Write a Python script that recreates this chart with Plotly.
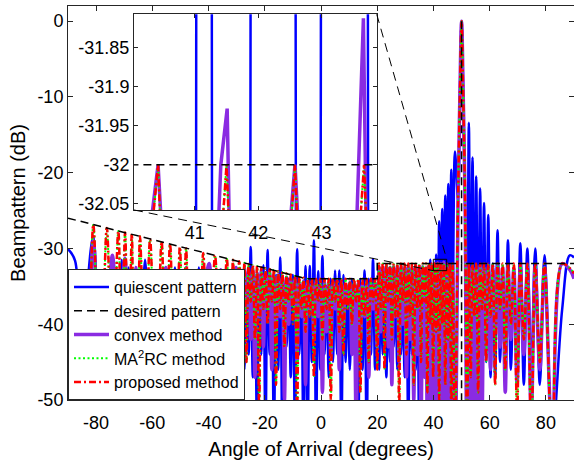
import plotly.graph_objects as go

# ---------------- data ----------------
# shared angle vertices (degrees) of the plotted patterns (main axes)
theta = [
    # -90 .. -29
    -90.0, -87.5, -85.5, -83.3, -81.0, -78.6, -76.2, -74.2, -72.1, -70.9,
    -69.7, -68.5, -67.3, -66.55, -65.85, -65.1, -64.4, -62.6, -60.8, -58.75,
    -56.7, -55.2, -53.7, -51.95, -50.2, -49.1, -48.0, -46.5, -45.0, -43.45,
    -41.9, -39.8, -37.7, -35.6, -33.5, -32.4, -31.3, -30.2, -29.1,
    # -28 .. 20
    -28.0, -27.25, -26.5, -25.75, -25.0, -24.25, -23.5, -22.75, -22.0, -21.25,
    -20.5, -19.75, -19.0, -18.25, -17.5, -16.75, -16.0, -15.25, -14.5, -13.75,
    -13.0, -12.25, -11.5, -10.75, -10.0, -9.25, -8.5, -7.75, -7.0, -6.25,
    -5.5, -4.75, -4.0, -3.25, -2.5, -1.75, -1.0, -0.25, 0.5, 1.25,
    2.0, 2.75, 3.5, 4.25, 5.0, 5.75, 6.5, 7.25, 8.0, 8.75,
    9.5, 10.25, 11.0, 11.75, 12.5, 13.25, 14.0, 14.75, 15.5, 16.25,
    17.0, 17.75, 18.5, 19.25, 20.0,
    # 20.6 .. 46.9
    20.65, 21.3, 21.95, 22.6, 23.25, 23.9, 24.55, 25.2, 25.85, 26.5,
    27.15, 27.8, 28.45, 29.1, 29.75, 30.4, 31.05, 31.7, 32.35, 33.0,
    33.65, 34.3, 34.95, 35.6, 36.2, 36.8, 37.32, 37.83, 38.35, 38.87,
    39.39, 39.9, 40.42, 40.96, 41.49, 42.03, 42.58, 43.12, 43.67, 44.21,
    44.75, 45.29, 45.8, 46.35, 46.85,
    # main beam
    47.65, 48.75, 49.4, 50.0, 50.6, 51.25, 51.95,
    # 52.6 .. 90
    52.6, 53.25, 53.9, 54.55, 55.2, 55.9, 56.6, 57.3, 58.0, 58.75,
    59.5, 60.3, 61.1, 61.95, 62.8, 63.7, 64.6, 65.55, 66.5, 67.55,
    68.6, 69.75, 70.9, 72.15, 73.4, 74.8, 76.2, 77.85, 79.5, 82.3,
    85.8, 88.5, 90.0,
]

proposed_db = [
    -38, -45, -37, -50, -26.85, -52, -27.3, -47, -27.7, -45,
    -27.9, -48, -28.1, -47, -36.5, -50, -28.4, -46, -28.8, -49,
    -29.1, -46, -29.4, -50, -29.8, -45, -30.0, -50, -35.5, -47,
    -30.6, -50, -30.9, -46, -31.3, -49, -31.5, -46, -31.7,
    -39, -31.9, -45, -32.05, -37, -32.2, -42, -32.3, -51, -32.5,
    -38, -32.6, -40, -32.7, -37, -32.8, -48, -33.0, -38, -33.1,
    -43, -33.3, -37, -33.45, -40, -33.6, -52, -33.7, -38, -33.85,
    -41, -34, -39, -34, -47, -34, -37, -34, -42, -34,
    -38, -34, -50, -34, -37, -34, -41, -34, -44, -34,
    -38, -34, -40, -34, -37, -34, -49, -34, -39, -34,
    -45, -34, -37, -34, -46,
    -32, -38, -32, -46, -32, -37, -32, -42, -32, -39,
    -32, -51, -32, -37, -32, -44, -32, -39, -32, -48,
    -32, -38, -32, -45, -32, -37, -32, -49, -32, -40,
    -32, -47, -32, -41, -32, -50, -32, -40, -32, -48,
    -32, -42, -32, -52, -32,
    -55, -23.6, -10, 0, -10, -23.6, -55,
    -32, -47, -32, -39, -32, -49, -32, -38, -32, -45,
    -32, -39, -32, -48, -32, -38, -32, -46, -32, -40,
    -32, -52, -32, -42, -32, -55, -32, -45, -32, -56,
    -32, -32.6, -33.3,
]

# the MA2RC curve lies under the proposed-method curve in the picture
ma2rc_db = list(proposed_db)

convex_db = [
    -33.4, -48, -38, -45, -28.9, -45, -40, -30.9, -42, -36,
    -31.3, -46, -35, -45, -32.5, -48, -40, -33, -42, -33.5,
    -40, -32.5, -43, -33.5, -40, -47, -32.5, -45, -33.0, -50,
    -38, -32.0, -42, -32.8, -40, -33.0, -41, -32.5, -42,
    -40, -32.6, -38, -33.0, -42, -32.7, -47, -33.2, -39, -33.0,
    -43, -33.4, -38, -33.1, -46, -33.6, -41, -33.5, -39, -34.0,
    -50, -33.8, -40, -34.2, -37, -34.1, -45, -34.5, -39, -34.3,
    -48, -34.6, -38, -34.8, -42, -34.4, -39, -34.9, -49, -34.5,
    -41, -34.8, -44, -34.6, -38, -34.9, -46, -34.5, -40, -34.8,
    -37, -34.5, -44, -34.9, -53, -34.6, -42, -34.8, -39, -34.5,
    -47, -34.7, -38, -34.6, -43,
    -32.4, -41, -32.6, -38, -32.3, -43, -32.5, -48, -32.4, -39,
    -32.6, -45, -32.3, -40, -32.5, -47, -32.4, -42, -32.6, -50,
    -32.3, -44, -32.5, -53, -32.4, -47, -32.6, -55, -32.3, -50,
    -32.5, -56, -32.0, -58, -31.93, -60, -32.0, -60, -31.81, -60,
    -32.4, -62, -32.5, -62, -33,
    -65, -23.6, -10, 0, -10, -23.6, -65,
    -32.5, -60, -32.4, -60, -32.6, -58, -32.3, -52, -32.5, -44,
    -32.4, -46, -32.6, -41, -32.3, -43, -32.5, -49, -32.4, -42,
    -32.6, -48, -32.3, -44, -32.5, -52, -32.4, -46, -32.5, -55,
    -32.0, -32.8, -34.0,
]

quiescent_db = [
    -30.1, -31.6, -55, -36, -28.4, -45, -33, -33.5, -45, -31.5,
    -44, -32.5, -48, -33.5, -46, -34, -47, -31.5, -45, -33,
    -48, -33.0, -45, -32.5, -46, -35, -44, -33, -45, -32.5,
    -47, -33.0, -46, -34, -45, -33.5, -48, -33, -45,
    -33.5, -46, -35, -44, -29.8, -47, -34, -55, -33.5, -44,
    -32.2, -55, -30.2, -44, -35, -55, -33.5, -46, -31.2, -55,
    -35, -43, -34, -47, -33.5, -55, -30.1, -44, -35, -55,
    -32.3, -55, -32.3, -45, -28.9, -55, -33, -46, -31.0, -44,
    -35, -47, -34, -45, -32.9, -44, -32.9, -55, -33.5, -45,
    -35, -46, -34, -44, -35, -55, -34, -46, -32.9, -55,
    -34, -44, -31.4, -46, -35.5,
    -46, -34, -44, -33.5, -47, -35, -45, -33, -43, -34.5,
    -46, -33.5, -44, -35, -47, -34, -55, -33, -44, -34.5,
    -46, -33.5, -55, -35, -46, -34, -45, -33.5, -47, -31.5,
    -46, -32.5, -48, -30.8, -52, -26.4, -44, -24.8, -42, -23.0,
    -40, -21.5, -38, -19.6, -40,
    -17.2, -23.6, -10, 0, -10, -23.6, -45,
    -13.4, -45, -18.0, -45, -20.5, -45, -22.1, -46, -24.0, -45,
    -25.6, -47, -32, -47, -27.6, -45, -33, -45, -28.9, -46,
    -34, -45, -29.3, -48, -30.0, -46, -30.0, -48, -30.9, -55,
    -38, -30.9, -31.2,
]

# desired pattern (None separates the two pieces of the beam line)
theta_desired = [-90, -5, 20, 20, 50, 50, None, 50, 50, 90]
desired_db = [-26, -34, -34, -32, -32, -60, None, 0, -32, -32]

# finer readings of the curves inside the magnified inset (40-44 deg)
inset_theta_proposed = [39.9, 40.3, 40.35, 40.42, 40.45, 40.55, 41.37, 41.45,
                        41.5, 41.53, 41.62, 42.46, 42.53, 42.58, 42.61, 42.71,
                        43.55, 43.62, 43.67, 43.7, 43.8, 44.0]
inset_proposed_db = [-33, -32.3, -32.06, -32.0, -32.06, -32.3, -32.3, -32.06,
                     -32.0, -32.06, -32.3, -32.3, -32.06, -32.0, -32.06, -32.3,
                     -32.3, -32.06, -32.0, -32.06, -32.3, -33]
inset_ma2rc_db = list(inset_proposed_db)
inset_theta_convex = [39.9, 40.3, 40.33, 40.42, 40.46, 40.56, 41.3, 41.38,
                      41.41, 41.51, 41.54, 41.64, 42.45, 42.52, 42.58, 42.62,
                      42.72, 43.5, 43.56, 43.66, 43.7, 43.8, 44.0]
inset_convex_db = [-33, -32.3, -32.06, -32.0, -32.06, -32.3, -32.3, -32.06,
                   -32.0, -31.928, -32.06, -32.3, -32.3, -32.06, -32.0, -32.06,
                   -32.3, -32.3, -32.06, -31.812, -32.06, -32.3, -33]
inset_theta_quiescent = [39.9, 41.0, 41.03, 41.145, 41.26, 41.29, 41.57, 41.85,
                         41.89, 42.25, 42.58, 42.62, 42.8, 42.96, 43.0, 43.36,
                         43.72, 43.76, 44.0]
inset_quiescent_db = [-34, -34, -31.0, -30.5, -31.0, -34, -45, -34, -31.0,
                      -26.4, -31.0, -34, -44, -34, -31.0, -24.8, -31.0, -34, -40]

x_ticks = [-80, -60, -40, -20, 0, 20, 40, 60, 80]
x_tick_text = ["-80", "-60", "-40", "-20", "0", "20", "40", "60", "80"]
y_ticks = [-50, -40, -30, -20, -10, 0]
y_tick_text = ["-50", "-40", "-30", "-20", "-10", "0"]
inset_x_ticks = [41, 42, 43]
inset_x_text = ["41", "42", "43"]
inset_y_ticks = [-32.05, -32.0, -31.95, -31.9, -31.85]
inset_y_text = ["-32.05", "-32", "-31.95", "-31.9", "-31.85"]

assert len(theta) == len(proposed_db) == len(convex_db) == len(quiescent_db), (
    len(theta), len(proposed_db), len(convex_db), len(quiescent_db))
assert len(inset_theta_proposed) == len(inset_proposed_db)
assert len(inset_theta_convex) == len(inset_convex_db)
assert len(inset_theta_quiescent) == len(inset_quiescent_db)

# ---------------- figure ----------------
FONT = "Liberation Sans, Arial, Helvetica, sans-serif"
AX = "#262626"
BLUE, PURPLE, GREEN, RED = "#0000ff", "#8a2be2", "#00ff00", "#ff0000"

styles = {
    "quiescent": dict(color=BLUE, width=2.5),
    "convex": dict(color=PURPLE, width=3.5),
    "ma2rc": dict(color=GREEN, width=2, dash="2px,2.5px"),
    "proposed": dict(color=RED, width=2.5, dash="7px,3px,2px,3px"),
}
desired_line = dict(color="black", width=1.5, dash="8px,5px")

fig = go.Figure()

# drawing order as in the legend: quiescent, convex, MA2RC, proposed, desired
main_series = [
    ("quiescent pattern", theta, quiescent_db, "quiescent", 1),
    ("convex method", theta, convex_db, "convex", 3),
    ("MA<sup>2</sup>RC method", theta, ma2rc_db, "ma2rc", 4),
    ("proposed method", theta, proposed_db, "proposed", 5),
]
for name, xs, ys, key, rank in main_series:
    fig.add_trace(go.Scatter(
        x=xs, y=ys, mode="lines", name=name,
        line=dict(shape="spline", simplify=False, **styles[key]),
        legendrank=rank, hoverinfo="skip"))
fig.add_trace(go.Scatter(
    x=theta_desired, y=desired_db, mode="lines", name="desired pattern",
    line=desired_line, legendrank=2, connectgaps=False, hoverinfo="skip"))

inset_series = [
    (inset_theta_quiescent, inset_quiescent_db, "quiescent"),
    (inset_theta_convex, inset_convex_db, "convex"),
    (inset_theta_proposed, inset_ma2rc_db, "ma2rc"),
    (inset_theta_proposed, inset_proposed_db, "proposed"),
]
for xs, ys, key in inset_series:
    fig.add_trace(go.Scatter(
        x=xs, y=ys, mode="lines", line=dict(simplify=False, **styles[key]),
        xaxis="x2", yaxis="y2", showlegend=False, hoverinfo="skip"))
fig.add_trace(go.Scatter(
    x=theta_desired, y=desired_db, mode="lines", line=desired_line,
    xaxis="x2", yaxis="y2", showlegend=False, connectgaps=False,
    hoverinfo="skip"))

# inset placement (main-axis data coordinates of its corners)
inset_x = [-66.52, 19.82]
inset_y = [-24.92, 0.905]
rect_x = [39.95, 44.72]
rect_y = [-32.93, -31.43]
X_RANGE = [-90, 90]
Y_RANGE = [-50, 2]
dom_x = [(v - X_RANGE[0]) / (X_RANGE[1] - X_RANGE[0]) for v in inset_x]
dom_y = [(v - Y_RANGE[0]) / (Y_RANGE[1] - Y_RANGE[0]) for v in inset_y]

axis_common = dict(
    showline=True, linecolor=AX, linewidth=1, mirror="ticks",
    ticks="inside", ticklen=5, tickcolor=AX, tickwidth=1,
    showgrid=False, zeroline=False, automargin=False,
    tickfont=dict(family=FONT, size=18, color="black"),
)

fig.update_layout(
    width=574, height=464,
    margin=dict(l=68, r=0, t=6, b=64),
    paper_bgcolor="white", plot_bgcolor="white",
    font=dict(family=FONT, color="black"),
    xaxis=dict(range=X_RANGE, tickvals=x_ticks, ticktext=x_tick_text,
               ticklabelstandoff=6,
               title=dict(text="Angle of Arrival (degrees)",
                          font=dict(family=FONT, size=20), standoff=10),
               **axis_common),
    yaxis=dict(range=Y_RANGE, tickvals=y_ticks, ticktext=y_tick_text,
               title=dict(text="Beampattern (dB)",
                          font=dict(family=FONT, size=20), standoff=6),
               **axis_common),
    xaxis2=dict(domain=dom_x, anchor="y2", range=[40.04, 43.87],
                tickvals=inset_x_ticks, ticktext=inset_x_text,
                ticklabelstandoff=6,
                **{**axis_common, "ticklen": 4}),
    yaxis2=dict(domain=dom_y, anchor="x2", range=[-32.058, -31.807],
                tickvals=inset_y_ticks, ticktext=inset_y_text,
                **{**axis_common, "ticklen": 4}),
    legend=dict(x=0, y=0, xanchor="left", yanchor="bottom",
                bgcolor="white", bordercolor=AX, borderwidth=1,
                font=dict(family=FONT, size=16, color="black"),
                itemwidth=35, tracegroupgap=0),
    shapes=[
        dict(type="rect", xref="x", yref="y",
             x0=rect_x[0], x1=rect_x[1], y0=rect_y[0], y1=rect_y[1],
             line=dict(color="black", width=1)),
        dict(type="line", xref="x", yref="y",
             x0=inset_x[0], y0=inset_y[0], x1=rect_x[0], y1=rect_y[0],
             line=dict(color="black", width=1, dash="9px,6px")),
        dict(type="line", xref="x", yref="y",
             x0=inset_x[1], y0=inset_y[1], x1=rect_x[1], y1=rect_y[1],
             line=dict(color="black", width=1, dash="9px,6px")),
    ],
)

# remove the browser's default page margin so the 574x464 figure fills the window
fig.write_html(
    "out.html",
    config={"displayModeBar": False},
    post_script="document.body.style.margin='0px';"
                "document.body.style.padding='0px';"
                "document.documentElement.style.overflow='hidden';",
)
